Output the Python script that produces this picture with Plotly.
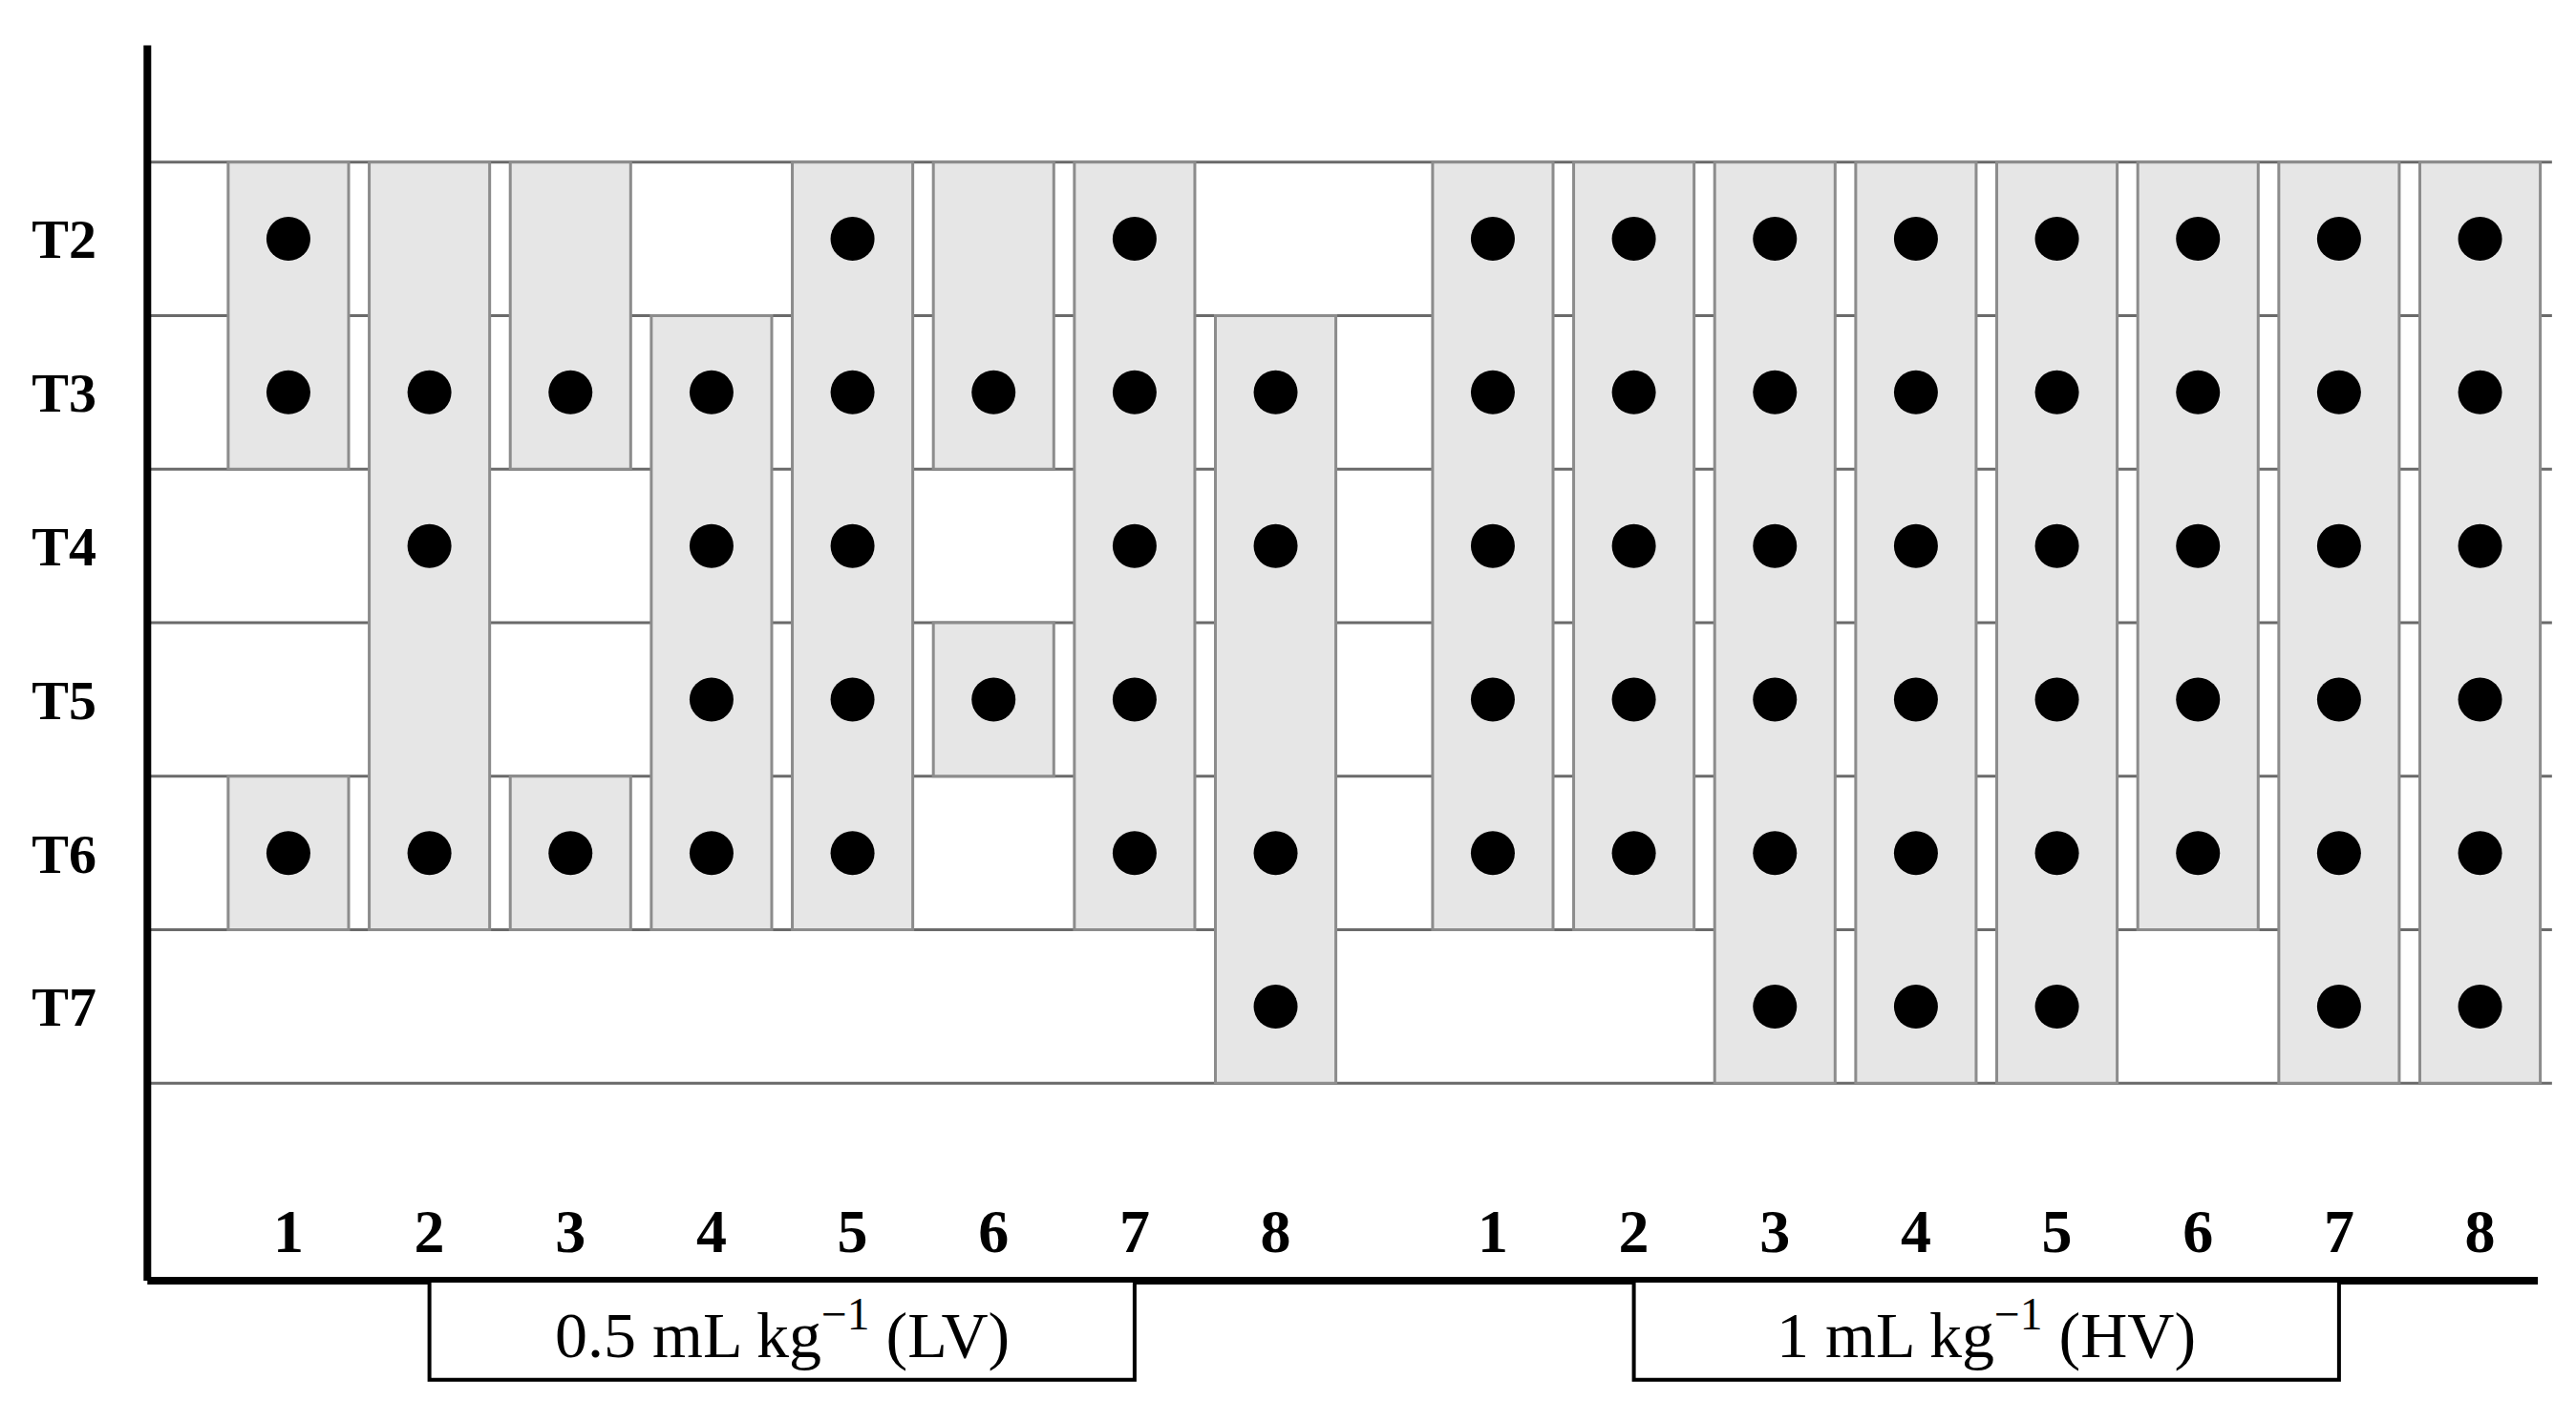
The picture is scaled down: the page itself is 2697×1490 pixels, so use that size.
import plotly.graph_objects as go

# =========================================================
# DATA
# =========================================================

rows = ["T2", "T3", "T4", "T5", "T6", "T7"]
columns = ["1", "2", "3", "4", "5", "6", "7", "8"]

# rows with a dot, per column
lv_dots = [
    ["T2", "T3", "T6"],
    ["T3", "T4", "T6"],
    ["T3", "T6"],
    ["T3", "T4", "T5", "T6"],
    ["T2", "T3", "T4", "T5", "T6"],
    ["T3", "T5"],
    ["T2", "T3", "T4", "T5", "T6"],
    ["T3", "T4", "T6", "T7"],
]
hv_dots = [
    ["T2", "T3", "T4", "T5", "T6"],
    ["T2", "T3", "T4", "T5", "T6"],
    ["T2", "T3", "T4", "T5", "T6", "T7"],
    ["T2", "T3", "T4", "T5", "T6", "T7"],
    ["T2", "T3", "T4", "T5", "T6", "T7"],
    ["T2", "T3", "T4", "T5", "T6"],
    ["T2", "T3", "T4", "T5", "T6", "T7"],
    ["T2", "T3", "T4", "T5", "T6", "T7"],
]

# shaded spans (first row, last row), per column
lv_spans = [
    [("T2", "T3"), ("T6", "T6")],
    [("T2", "T6")],
    [("T2", "T3"), ("T6", "T6")],
    [("T3", "T6")],
    [("T2", "T6")],
    [("T2", "T3"), ("T5", "T5")],
    [("T2", "T6")],
    [("T3", "T7")],
]
hv_spans = [
    [("T2", "T6")],
    [("T2", "T6")],
    [("T2", "T7")],
    [("T2", "T7")],
    [("T2", "T7")],
    [("T2", "T6")],
    [("T2", "T7")],
    [("T2", "T7")],
]

group_labels = ["0.5 mL kg<sup>−1</sup> (LV)", "1 mL kg<sup>−1</sup> (HV)"]

# =========================================================
# LAYOUT CONSTANTS
# =========================================================

GROUP_OFFSET = [0.0, 8.54]   # x shift of the second group
HALF_W = 0.427
AXIS_Y = 6.785
FONT = "Liberation Serif"


def row_idx(r):
    return rows.index(r)


fig = go.Figure()
shapes = []

# horizontal row lines
for k in range(len(rows) + 1):
    shapes.append(dict(
        type="line", xref="x", yref="y", layer="below",
        x0=0, x1=17.05, y0=k - 0.5, y1=k - 0.5,
        line=dict(color="#6a6a6a", width=3),
    ))

groups = [(lv_dots, lv_spans), (hv_dots, hv_spans)]
label_x, label_t = [], []

for g, (dots, spans) in enumerate(groups):
    xs, ys = [], []
    for i, col in enumerate(columns):
        cx = i + 1 + GROUP_OFFSET[g]
        label_x.append(cx)
        label_t.append(col)
        for a, b in spans[i]:
            shapes.append(dict(
                type="rect", xref="x", yref="y", layer="below",
                x0=cx - HALF_W, x1=cx + HALF_W,
                y0=row_idx(a) - 0.5, y1=row_idx(b) + 0.5,
                fillcolor="#e6e6e6",
                line=dict(color="#8c8c8c", width=3),
            ))
        for r in dots[i]:
            xs.append(cx)
            ys.append(row_idx(r))
    fig.add_trace(go.Scatter(
        x=xs, y=ys, mode="markers",
        marker=dict(color="black", size=46),
        hoverinfo="skip", showlegend=False,
    ))

# column numbers
fig.add_trace(go.Scatter(
    x=label_x, y=[6.5] * len(label_x), mode="text", text=label_t,
    textfont=dict(family=FONT, size=64, color="black", weight="bold"),
    hoverinfo="skip", showlegend=False,
))

# axes lines
shapes.append(dict(type="line", xref="x", yref="y", x0=0, x1=0,
                   y0=-1.26, y1=AXIS_Y, line=dict(color="black", width=8)))
shapes.append(dict(type="line", xref="x", yref="y", x0=0, x1=16.95,
                   y0=AXIS_Y, y1=AXIS_Y, line=dict(color="black", width=8)))

# group boxes
annotations = []
for g, lab in enumerate(group_labels):
    x0 = 2 + GROUP_OFFSET[g]
    x1 = 7 + GROUP_OFFSET[g]
    shapes.append(dict(type="rect", xref="x", yref="y", x0=x0, x1=x1,
                       y0=AXIS_Y, y1=7.43, fillcolor="white",
                       line=dict(color="black", width=4)))
    annotations.append(dict(
        x=(x0 + x1) / 2, y=7.11, xref="x", yref="y", text=lab,
        showarrow=False, font=dict(family=FONT, size=68, color="black"),
    ))

fig.update_layout(
    width=2697, height=1490,
    margin=dict(l=102, r=11, t=17, b=26),
    paper_bgcolor="white", plot_bgcolor="white",
    shapes=shapes, annotations=annotations,
    xaxis=dict(range=[-0.3, 17.2], visible=False),
    yaxis=dict(
        range=[7.6, -1.4],
        tickvals=list(range(len(rows))), ticktext=rows,
        showgrid=False, zeroline=False, showline=False, ticks="",
        ticklabelstandoff=8,
        tickfont=dict(family=FONT, size=58, color="black", weight="bold"),
    ),
)

fig.write_html("out.html")
